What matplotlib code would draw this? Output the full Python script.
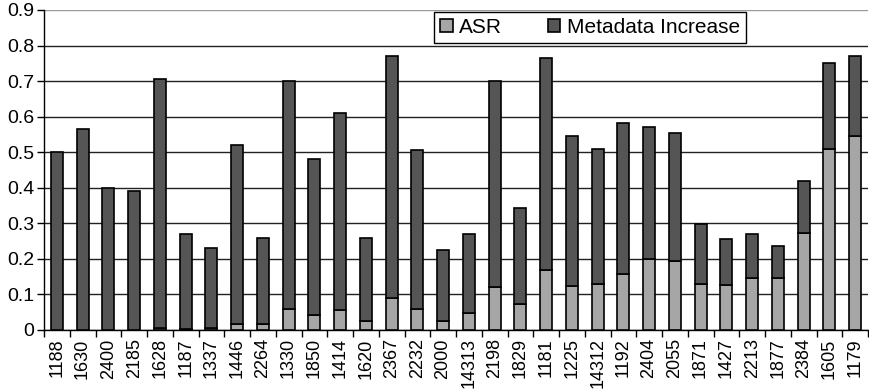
import numpy as np
import matplotlib
matplotlib.use('Agg')
import matplotlib.pyplot as plt

labels = ['1188', '1630', '2400', '2185', '1628', '1187', '1337', '1446', '2264', '1330',
          '1850', '1414', '1620', '2367', '2232', '2000', '14313', '2198', '1829', '1181',
          '1225', '14312', '1192', '2404', '2055', '1871', '1427', '2213', '1877', '2384',
          '1605', '1179']
total = [0.50, 0.565, 0.40, 0.39, 0.705, 0.27, 0.23, 0.52, 0.26, 0.70,
         0.48, 0.61, 0.26, 0.77, 0.505, 0.225, 0.27, 0.70, 0.343, 0.765,
         0.545, 0.51, 0.583, 0.57, 0.553, 0.297, 0.257, 0.27, 0.235, 0.42,
         0.752, 0.77]
asr = [0.0, 0.0, 0.0, 0.0, 0.007, 0.003, 0.007, 0.018, 0.017, 0.06,
       0.043, 0.055, 0.025, 0.09, 0.06, 0.025, 0.047, 0.12, 0.073, 0.168,
       0.125, 0.13, 0.157, 0.20, 0.195, 0.13, 0.126, 0.147, 0.147, 0.272,
       0.51, 0.545]
meta = [t - a for t, a in zip(total, asr)]

plt.rcParams['font.family'] = ['Liberation Sans', 'DejaVu Sans']

W, H = 869, 389
fig = plt.figure(figsize=(W / 100, H / 100), dpi=100)
ax = fig.add_axes([44 / W, (H - 330) / H, 824 / W, (330 - 10) / H])

x = np.arange(len(labels))
bw = 0.46
ax.bar(x, asr, bw, color='#a6a6a6', edgecolor='black', lw=1.2, label='ASR', zorder=3)
ax.bar(x, meta, bw, bottom=asr, color='#555555', edgecolor='black', lw=1.2,
       label='Metadata Increase', zorder=3)

ax.set_ylim(0, 0.9)
ax.set_xlim(-0.5, len(labels) - 0.5)
ax.set_yticks(np.arange(0, 0.91, 0.1))
ax.set_yticklabels(['0'] + ['%.1f' % v for v in np.arange(0.1, 0.91, 0.1)], fontsize=14)
ax.yaxis.grid(True, color='#222222', lw=1.0, zorder=0)
ax.get_ygridlines()[-1].set_color('#999999')

ax.set_xticks(x)
ax.set_xticklabels(labels, rotation=90, fontsize=13)
ax.set_xticks(np.arange(-0.5, len(labels), 1.0), minor=True)
ax.tick_params(axis='x', which='major', length=0, pad=6)
ax.tick_params(axis='x', which='minor', length=5, direction='out', width=1.0)
ax.tick_params(axis='y', length=5, direction='out', width=1.0, pad=2)

for s in ['top', 'right']:
    ax.spines[s].set_visible(False)
ax.spines['left'].set_linewidth(1.0)
ax.spines['bottom'].set_linewidth(1.0)

leg = ax.legend(loc='center', bbox_to_anchor=(434 / W, 1 - 44 / H, (746 - 434) / W, 33 / H),
                bbox_transform=fig.transFigure, ncol=2, mode='expand', fontsize=15,
                frameon=True, fancybox=False, edgecolor='black', framealpha=1,
                handlelength=0.6, handleheight=0.6, handletextpad=0.3, columnspacing=1.0,
                borderaxespad=0, borderpad=0.3)
leg.get_frame().set_linewidth(1.0)
leg.set_zorder(5)

fig.savefig('out.png', dpi=100)
